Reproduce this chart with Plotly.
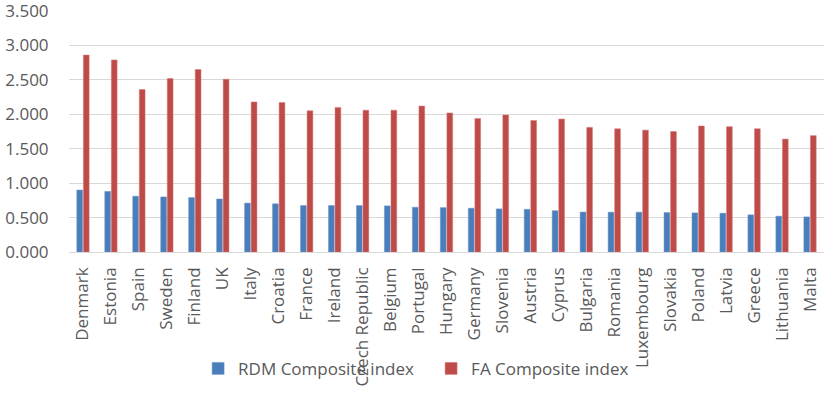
import plotly.graph_objects as go

countries = ["Denmark", "Estonia", "Spain", "Sweden", "Finland", "UK", "Italy", "Croatia",
             "France", "Ireland", "Czech Republic", "Belgium", "Portugal", "Hungary", "Germany",
             "Slovenia", "Austria", "Cyprus", "Bulgaria", "Romania", "Luxembourg", "Slovakia",
             "Poland", "Latvia", "Greece", "Lithuania", "Malta"]
rdm = [0.90, 0.88, 0.81, 0.80, 0.79, 0.77, 0.71, 0.70, 0.675, 0.675, 0.675, 0.67, 0.65, 0.645,
       0.636, 0.626, 0.62, 0.60, 0.58, 0.578, 0.578, 0.573, 0.568, 0.563, 0.54, 0.52, 0.51]
fa = [2.86, 2.79, 2.36, 2.52, 2.65, 2.51, 2.18, 2.17, 2.05, 2.10, 2.06, 2.06, 2.12, 2.02,
      1.94, 1.99, 1.91, 1.93, 1.81, 1.79, 1.77, 1.75, 1.83, 1.82, 1.79, 1.64, 1.69]
yticks = [0, 0.5, 1.0, 1.5, 2.0, 2.5, 3.0, 3.5]

fig = go.Figure()
fig.add_trace(go.Bar(x=countries, y=rdm, name="RDM Composite index",
                     marker=dict(color="#4a7ebb", line=dict(color="#6a95cc", width=0.5))))
fig.add_trace(go.Bar(x=countries, y=fa, name="FA Composite index",
                     marker=dict(color="#be4b48", line=dict(color="#d47a78", width=0.5))))

font_family = "Open Sans, Noto Sans, sans-serif"
fig.update_layout(
    width=829, height=394,
    margin=dict(l=69, r=5, t=11, b=142),
    paper_bgcolor="white", plot_bgcolor="white",
    barmode="group", bargap=0.53, bargroupgap=0.12,
    font=dict(family=font_family, color="#595959", size=17),
    legend=dict(orientation="h", x=0.171, y=-0.485, xanchor="left", yanchor="middle",
                font=dict(size=17, color="#595959"), bgcolor="rgba(0,0,0,0)",
                entrywidth=188, entrywidthmode="pixels", traceorder="normal"),
    xaxis=dict(tickangle=-90, tickfont=dict(size=17, color="#595959"), showgrid=False,
               showline=False, ticks="", automargin=False, ticklabelstandoff=11),
    yaxis=dict(range=[0, 3.5], tickvals=yticks, tickformat=".3f",
               tickfont=dict(size=17, color="#595959"), ticklabeloverflow="allow",
               showgrid=True, gridcolor="#d9d9d9", gridwidth=1,
               zeroline=True, zerolinecolor="#d9d9d9", zerolinewidth=1,
               showline=False, ticks="outside", ticklen=16, tickcolor="rgba(0,0,0,0)",
               automargin=False),
)
fig.write_html("out.html", config={"displayModeBar": False},
               post_script="document.body.style.margin='0';")
